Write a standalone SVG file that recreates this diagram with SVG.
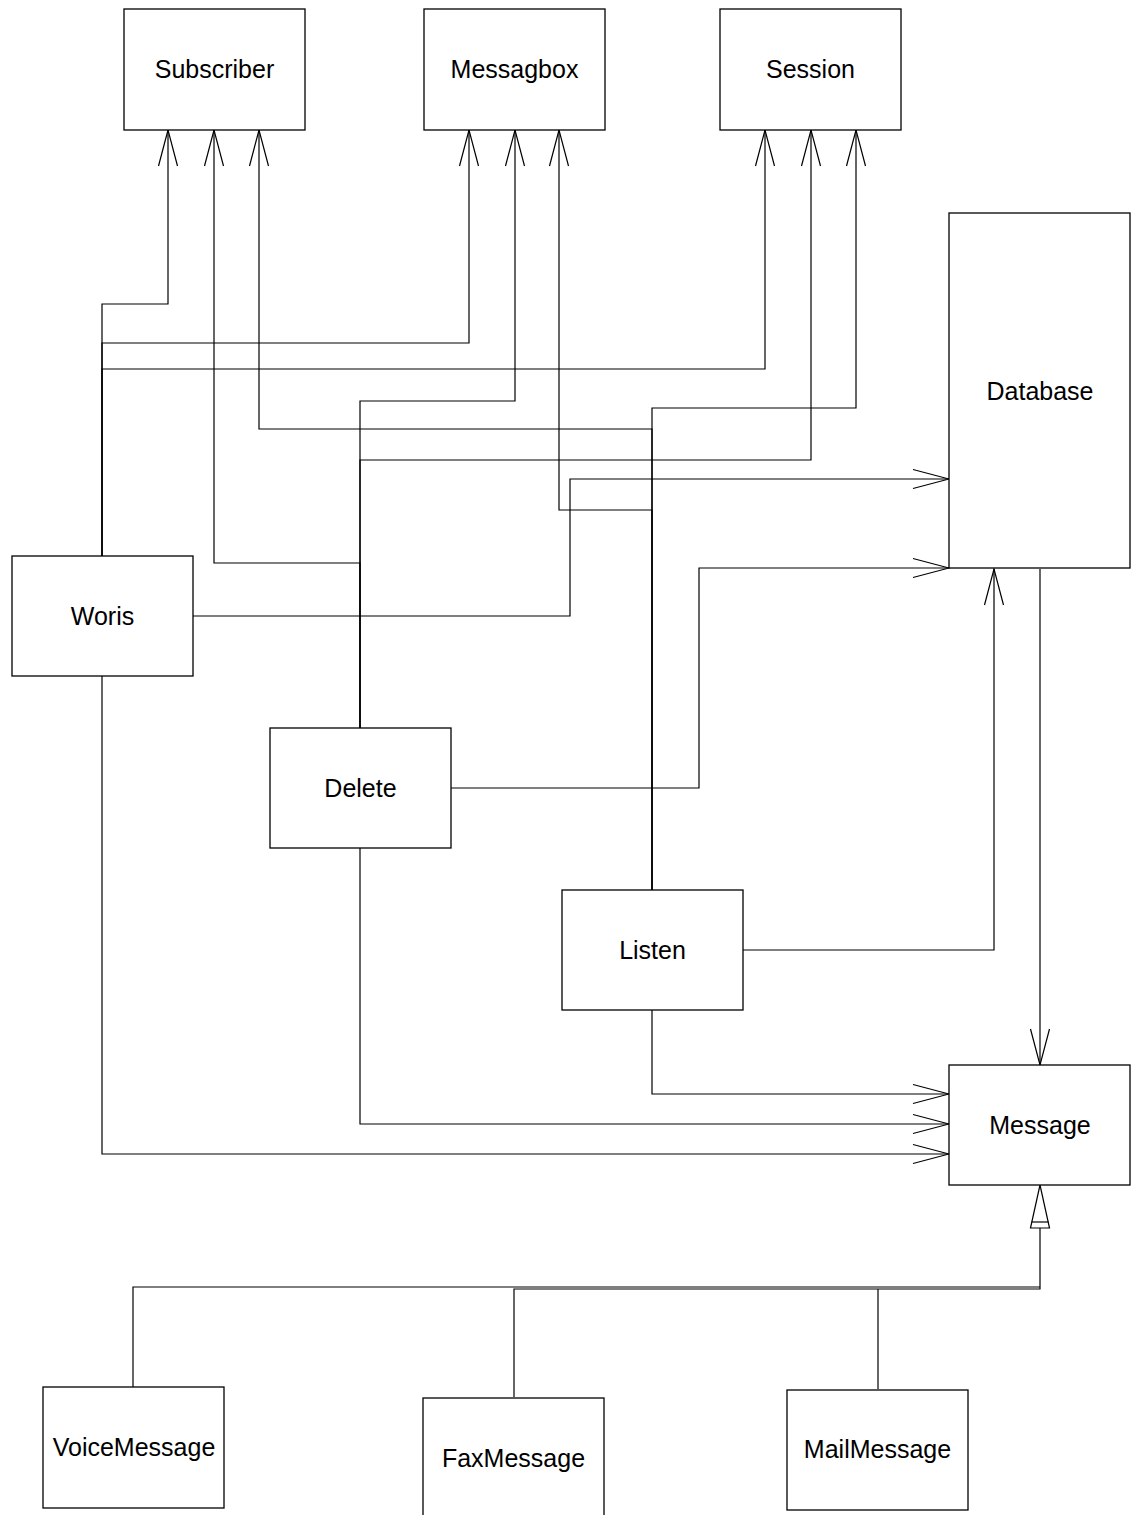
<svg xmlns="http://www.w3.org/2000/svg" width="1132" height="1515" viewBox="0 0 1132 1515">
  <style>
    .box { fill: #fff; stroke: #000; stroke-width: 1.3; }
    .label { font-family: "Liberation Sans", Arial, sans-serif; font-size: 25px; fill: #000; text-anchor: middle; }
    .link { fill: none; stroke: #000; stroke-width: 1.2; }
    .dep { marker-end: url(#open-arrow); }
  </style>
  <defs>
    <marker id="open-arrow" markerUnits="userSpaceOnUse" viewBox="-38 -11 40 22" refX="0" refY="0" markerWidth="40" markerHeight="22" orient="auto">
      <path d="M-36,-9.5 L0,0 L-36,9.5" fill="none" stroke="#000" stroke-width="1.2"/>
    </marker>
  </defs>
  <rect width="1132" height="1515" fill="#fff"/>

  <g id="connectors">
    <!-- Woris dependencies -->
    <polyline class="link dep" points="102,556 102,304 168,304 168,130"/>
    <polyline class="link dep" points="102,556 102,343 469,343 469,130"/>
    <polyline class="link dep" points="102,556 102,369 765,369 765,130"/>
    <polyline class="link dep" points="193,616 570,616 570,479 949,479"/>
    <polyline class="link dep" points="102,676 102,1154 949,1154"/>
    <!-- Delete dependencies -->
    <polyline class="link dep" points="360,728 360,563 214,563 214,130"/>
    <polyline class="link dep" points="360,728 360,401 515,401 515,130"/>
    <polyline class="link dep" points="360,728 360,460 811,460 811,130"/>
    <polyline class="link dep" points="451,788 699,788 699,568 949,568"/>
    <polyline class="link dep" points="360,848 360,1124 949,1124"/>
    <!-- Listen dependencies -->
    <polyline class="link dep" points="652,890 652,429 259,429 259,130"/>
    <polyline class="link dep" points="652,890 652,510 559,510 559,130"/>
    <polyline class="link dep" points="652,890 652,408 856,408 856,130"/>
    <polyline class="link dep" points="743,950 994,950 994,569"/>
    <polyline class="link dep" points="652,1010 652,1094 949,1094"/>
    <!-- Database to Message -->
    <polyline class="link dep" points="1040,569 1040,1065"/>
    <!-- Generalization of Message -->
    <polygon class="link" points="1040,1185 1030.5,1228 1049.5,1228"/>
    <line class="link" x1="1031.5" y1="1222" x2="1048.5" y2="1222"/>
    <polyline class="link" points="1040,1228 1040,1289 514,1289 514,1397"/>
    <polyline class="link" points="1040,1287 133,1287 133,1387"/>
    <line class="link" x1="878" y1="1289" x2="878" y2="1389"/>
  </g>

  <g id="subscriber">
    <rect class="box" x="124" y="9" width="181" height="121"/>
    <text class="label" x="214.5" y="78">Subscriber</text>
  </g>
  <g id="messagbox">
    <rect class="box" x="424" y="9" width="181" height="121"/>
    <text class="label" x="514.5" y="78">Messagbox</text>
  </g>
  <g id="session">
    <rect class="box" x="720" y="9" width="181" height="121"/>
    <text class="label" x="810.5" y="78">Session</text>
  </g>
  <g id="database">
    <rect class="box" x="949" y="213" width="181" height="355"/>
    <text class="label" x="1040" y="400">Database</text>
  </g>
  <g id="woris">
    <rect class="box" x="12" y="556" width="181" height="120"/>
    <text class="label" x="102.5" y="625">Woris</text>
  </g>
  <g id="delete">
    <rect class="box" x="270" y="728" width="181" height="120"/>
    <text class="label" x="360.5" y="797">Delete</text>
  </g>
  <g id="listen">
    <rect class="box" x="562" y="890" width="181" height="120"/>
    <text class="label" x="652.5" y="959">Listen</text>
  </g>
  <g id="message">
    <rect class="box" x="949" y="1065" width="181" height="120"/>
    <text class="label" x="1040" y="1134">Message</text>
  </g>
  <g id="voicemessage">
    <rect class="box" x="43" y="1387" width="181" height="121"/>
    <text class="label" x="134" y="1456">VoiceMessage</text>
  </g>
  <g id="faxmessage">
    <rect class="box" x="423" y="1398" width="181" height="125"/>
    <text class="label" x="513.5" y="1467">FaxMessage</text>
  </g>
  <g id="mailmessage">
    <rect class="box" x="787" y="1390" width="181" height="120"/>
    <text class="label" x="877.5" y="1458">MailMessage</text>
  </g>
</svg>
